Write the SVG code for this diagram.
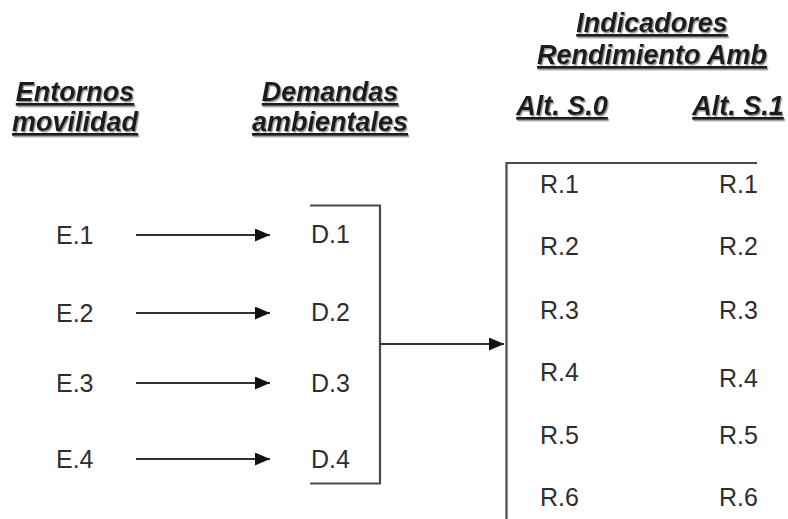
<svg xmlns="http://www.w3.org/2000/svg" width="788" height="519" viewBox="0 0 788 519">
  <style>
    .hdr { font-family: "Liberation Sans", Arial, sans-serif; font-size: 27px; font-weight: bold; font-style: italic; fill: #1a1a1a; text-decoration: underline; }
    .lbl { font-family: "Liberation Sans", Arial, sans-serif; font-size: 25px; fill: #2e2e2e; }
    .wire { fill: none; stroke: #333333; stroke-width: 2; }
    .bracket { fill: none; stroke: #4a4a4a; stroke-width: 2.2; }
  </style>
  <defs>
    <filter id="shadow" x="-10%" y="-30%" width="120%" height="160%">
      <feDropShadow dx="1.2" dy="1.5" stdDeviation="0.6" flood-color="#8a8a8a" flood-opacity="0.9"/>
    </filter>
    <marker id="head" viewBox="0 0 15 13" refX="15" refY="6.5" markerWidth="15" markerHeight="13" markerUnits="userSpaceOnUse" orient="auto">
      <path d="M0,0 L15,6.5 L0,13 Z" fill="#111111"/>
    </marker>
  </defs>
  <rect width="788" height="519" fill="#ffffff"/>

  <!-- column headings -->
  <g id="headings" filter="url(#shadow)">
    <text class="hdr" x="75" y="101" text-anchor="middle">Entornos</text>
    <text class="hdr" x="75" y="131" text-anchor="middle">movilidad</text>
    <text class="hdr" x="330" y="101" text-anchor="middle">Demandas</text>
    <text class="hdr" x="330" y="131" text-anchor="middle">ambientales</text>
    <text class="hdr" x="652" y="32" text-anchor="middle">Indicadores</text>
    <text class="hdr" x="652" y="64" text-anchor="middle">Rendimiento Amb</text>
    <text class="hdr" x="562" y="115" text-anchor="middle">Alt. S.0</text>
    <text class="hdr" x="738" y="115" text-anchor="middle">Alt. S.1</text>
  </g>

  <!-- mobility environments -->
  <g id="E1"><text class="lbl" x="56" y="244">E.1</text></g>
  <g id="E2"><text class="lbl" x="56" y="322">E.2</text></g>
  <g id="E3"><text class="lbl" x="56" y="392">E.3</text></g>
  <g id="E4"><text class="lbl" x="56" y="468">E.4</text></g>

  <!-- environmental demands -->
  <g id="D1"><text class="lbl" x="311" y="243">D.1</text></g>
  <g id="D2"><text class="lbl" x="311" y="321">D.2</text></g>
  <g id="D3"><text class="lbl" x="311" y="392">D.3</text></g>
  <g id="D4"><text class="lbl" x="311" y="468">D.4</text></g>

  <!-- performance indicators, alternative S.0 -->
  <g id="S0">
    <text class="lbl" x="540" y="193">R.1</text>
    <text class="lbl" x="540" y="255">R.2</text>
    <text class="lbl" x="540" y="319">R.3</text>
    <text class="lbl" x="540" y="381">R.4</text>
    <text class="lbl" x="540" y="444">R.5</text>
    <text class="lbl" x="540" y="506">R.6</text>
  </g>

  <!-- performance indicators, alternative S.1 -->
  <g id="S1">
    <text class="lbl" x="719" y="193">R.1</text>
    <text class="lbl" x="719" y="255">R.2</text>
    <text class="lbl" x="719" y="319">R.3</text>
    <text class="lbl" x="719" y="387">R.4</text>
    <text class="lbl" x="719" y="444">R.5</text>
    <text class="lbl" x="719" y="506">R.6</text>
  </g>

  <!-- connectors -->
  <g id="connectors">
    <line class="wire" x1="136" y1="235" x2="270" y2="235" stroke="#111111" stroke-width="1.6" marker-end="url(#head)"/>
    <line class="wire" x1="136" y1="313" x2="270" y2="313" stroke="#555555" stroke-width="2.6" marker-end="url(#head)"/>
    <line class="wire" x1="136" y1="383" x2="270" y2="383" marker-end="url(#head)"/>
    <line class="wire" x1="136" y1="459" x2="270" y2="459" marker-end="url(#head)"/>
    <path class="bracket" d="M310,205.5 H380 V483.5 H310"/>
    <line class="wire" x1="380" y1="344" x2="504" y2="344" stroke="#555555" stroke-width="2.4" marker-end="url(#head)"/>
    <path class="bracket" d="M757,163 H506.5 V519"/>
  </g>
</svg>
